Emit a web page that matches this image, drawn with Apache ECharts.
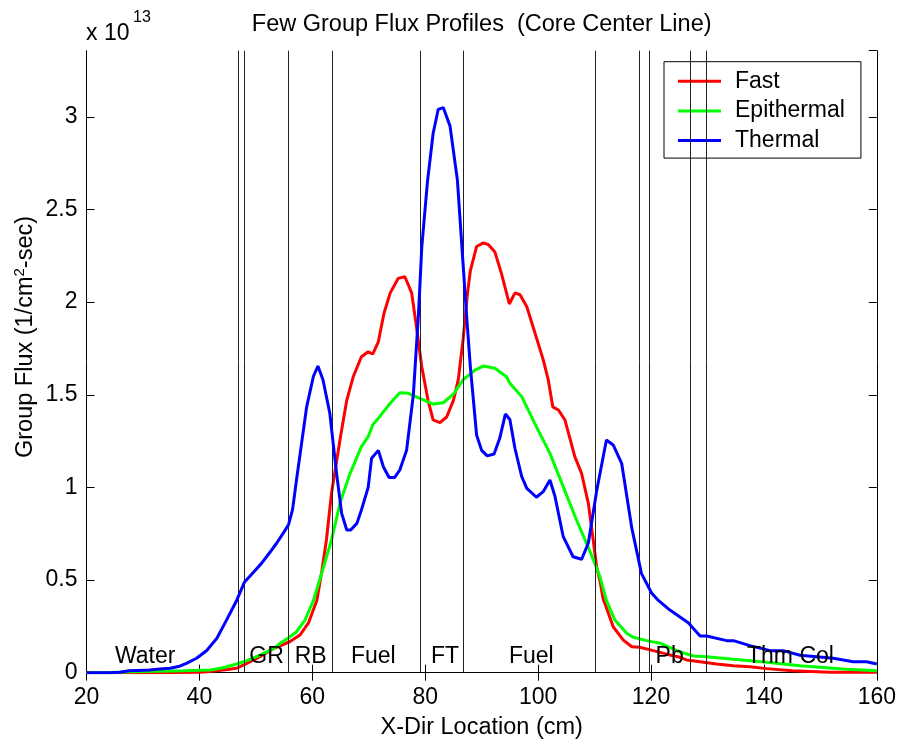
<!DOCTYPE html>
<html>
<head>
<meta charset="utf-8">
<script src="https://cdn.jsdelivr.net/npm/echarts@6/dist/echarts.min.js"></script>
<style>
html,body{margin:0;padding:0;background:#fff;}
#chart{width:899px;height:740px;}
</style>
</head>
<body>
<div id="chart"></div>
<script>
// ---- data (flux in units of 1e13 1/cm^2-sec) ----
var fastX = [20,30,40,41.3,43,45,46.6,48.4,50.7,53.1,56.0,57.8,59.3,60.8,61.7,62.5,63.4,64.9,66.1,67.25,68.7,69.9,70.7,71.7,72.7,73.8,75.2,76.4,77.6,78.45,79.4,80.5,81.4,82.6,83.8,85.0,85.85,86.7,87.5,88.0,89.1,90.3,91.2,92.35,93.5,94.4,94.9,95.9,96.8,98.0,99.1,100.9,101.8,102.6,103.6,104.75,106.5,107.7,108.9,109.76,110.36,111.0,111.5,112.1,113.3,115.1,116.6,118.0,120.4,122.8,125.1,126.3,128.7,131.6,134.6,137.5,140.5,145,151.7,160];
var fastY = [0,0,0.002,0.005,0.01,0.017,0.024,0.05,0.086,0.13,0.167,0.203,0.267,0.39,0.55,0.716,0.968,1.256,1.47,1.597,1.705,1.732,1.72,1.786,1.94,2.05,2.128,2.137,2.05,1.867,1.65,1.47,1.364,1.35,1.38,1.47,1.58,1.795,2.05,2.17,2.30,2.32,2.31,2.27,2.155,2.05,1.99,2.05,2.04,1.975,1.867,1.69,1.58,1.435,1.418,1.364,1.166,1.076,0.914,0.716,0.572,0.49,0.40,0.35,0.248,0.176,0.14,0.137,0.119,0.10,0.083,0.069,0.059,0.047,0.038,0.032,0.022,0.01,0.003,0.002];

var epiX = [20,24,26.5,30,33,37.1,41.9,44,46.6,48.4,50.7,53.1,54.3,55.7,57.2,58.7,60.2,61.8,63.4,64.9,66.7,68.7,69.9,70.7,72.0,73.8,75.5,77.0,79.07,81.4,83.2,85.0,86.7,88.8,90.3,92.35,94.4,95.0,97.1,99.4,102.1,104.45,106.8,109.1,110.95,112.1,113.6,115.7,116.85,119.2,121.6,125.1,127.5,129.85,134.6,140.5,146.4,154.6,160];
var epiY = [0,0,0.004,0.006,0.008,0.011,0.015,0.025,0.047,0.065,0.095,0.13,0.159,0.186,0.221,0.284,0.39,0.55,0.716,0.914,1.076,1.22,1.274,1.337,1.385,1.454,1.511,1.508,1.481,1.45,1.457,1.504,1.58,1.633,1.655,1.643,1.597,1.562,1.49,1.346,1.184,1.004,0.824,0.662,0.518,0.39,0.284,0.213,0.191,0.173,0.159,0.113,0.09,0.086,0.072,0.056,0.038,0.018,0.011];

var thermX = [20,22,24,25.9,27.5,29,31.2,33,34.8,36.5,37.7,39.5,41.3,43.1,44.8,46.6,48,49.5,51,52.5,53.7,55.0,55.8,56.5,57.2,59.0,60.2,61.0,61.9,63.1,64.3,65.2,66.1,66.8,67.9,68.7,69.9,70.5,71.7,72.6,73.6,74.6,75.5,76.7,77.9,78.8,79.4,80.4,81.4,82.3,83.2,84.4,85.7,86.5,87.3,88.0,89.1,90.0,91.0,92.2,93.2,94.2,95.0,95.9,97.1,98.0,99.7,100.9,102.1,103.0,104.45,106.2,107.7,108.9,110.4,112.1,113.3,114.8,116.6,118.3,120.1,121.3,123.35,126.6,128.7,129.85,133.4,134.6,137.5,141.1,143.4,146.4,152.3,155.8,158.2,160];
var thermY = [0,0,0,0.002,0.01,0.012,0.015,0.02,0.024,0.035,0.05,0.078,0.12,0.186,0.284,0.39,0.49,0.54,0.59,0.65,0.70,0.76,0.80,0.88,1.04,1.435,1.60,1.655,1.58,1.40,1.076,0.86,0.77,0.77,0.806,0.878,1.0,1.157,1.20,1.11,1.054,1.054,1.094,1.20,1.50,1.93,2.30,2.65,2.91,3.04,3.05,2.95,2.66,2.30,1.94,1.65,1.283,1.20,1.17,1.18,1.265,1.396,1.367,1.21,1.058,0.995,0.947,0.977,1.04,0.95,0.734,0.626,0.612,0.70,0.986,1.256,1.229,1.13,0.78,0.536,0.43,0.39,0.338,0.27,0.198,0.198,0.173,0.173,0.146,0.119,0.119,0.094,0.078,0.059,0.059,0.047];

var boundaryX = [46.8,47.95,55.8,63.6,79.07,86.74,110.1,117.9,119.6,127.0,129.85];
var regionNames = ['Water','GR','RB','Fuel','FT','Fuel','Pb','Thm Col'];
var regionX = [30.4,51.9,59.7,70.8,83.5,98.8,123.3,144.7];
var regionY = [0.085,0.085,0.085,0.085,0.085,0.085,0.085,0.085];

var xTicks = [20,40,60,80,100,120,140,160];
var yTicks = [0,0.5,1,1.5,2,2.5,3];
var seriesNames = ['Fast','Epithermal','Thermal'];

// ---- chart ----
function pairs(xs, ys){ return xs.map(function(x,i){ return [x, ys[i]]; }); }
var FONT = '"Liberation Sans", Arial, Helvetica, sans-serif';
var FS = 23;
var FT = 23.5;
var chart = echarts.init(document.getElementById('chart'), null, {renderer:'canvas'});

var axisCommon = {
  axisLine:{show:true, lineStyle:{color:'#000', width:1}},
  axisTick:{show:true, inside:true, length:8, lineStyle:{color:'#000', width:1}},
  splitLine:{show:false}
};
function xAx(pos, showLabel){
  return Object.assign({
    type:'value', position:pos, min:20, max:160, interval:20,
    axisLabel:{show:showLabel, fontSize:FS, fontFamily:FONT, color:'#000', margin:13}
  }, axisCommon);
}
function yAx(pos, showLabel){
  return Object.assign({
    type:'value', position:pos, min:0, max:3.357, interval:0.5,
    axisLabel:{show:showLabel, fontSize:FS, fontFamily:FONT, color:'#000', margin:9, showMaxLabel:false,
      formatter:function(v){ return yTicks.indexOf(+v.toFixed(2))>=0 ? String(+v.toFixed(2)) : ''; }}
  }, axisCommon);
}

var colors = ['#ff0000','#00ff00','#0000ff'];
var lineData = [pairs(fastX,fastY), pairs(epiX,epiY), pairs(thermX,thermY)];

var series = seriesNames.map(function(n,i){
  return {
    name:n, type:'line', data:lineData[i], showSymbol:false, symbol:'none',
    lineStyle:{color:colors[i], width:3}, itemStyle:{color:colors[i]},
    z: 3+i, animation:false, silent:true
  };
});

series.push({
  name:'regions', type:'scatter', symbolSize:0, silent:true, animation:false, z:10,
  itemStyle:{color:'#000', opacity:1},
  data: regionNames.map(function(n,i){ return {name:n, value:[regionX[i], regionY[i]]}; }),
  label:{show:true, position:'inside', formatter:'{b}', fontSize:FS, fontFamily:FONT, color:'#000',
    textBorderWidth:0, textBorderColor:'transparent', opacity:1},
  markLine:{
    silent:true, symbol:['none','none'], animation:false,
    label:{show:false},
    lineStyle:{color:'#222', width:1, type:'solid', opacity:1},
    data: boundaryX.map(function(x){ return {xAxis:x}; })
  }
});

chart.setOption({
  animation:false,
  backgroundColor:'#fff',
  grid:{left:86.5, right:22, top:50.7, bottom:67.3, containLabel:false},
  xAxis:[xAx('bottom', true), xAx('top', false)],
  yAxis:[yAx('left', true), yAx('right', false)],
  legend:{
    data:seriesNames, orient:'vertical', left:664, top:61.7,
    icon:'rect', itemWidth:43, itemHeight:3, itemGap:6.7,
    borderColor:'#000', borderWidth:1, backgroundColor:'#fff',
    padding:[8,16,6,14],
    textStyle:{fontSize:FS, fontFamily:FONT, color:'#000', lineHeight:23, padding:[0,0,0,9]},
    selectedMode:false
  },
  graphic:[
    {type:'text', x:481.7, y:25, style:{text:'Few Group Flux Profiles  (Core Center Line)', font:FT+'px '+FONT, fill:'#000', textAlign:'center', textVerticalAlign:'middle'}},
    {type:'text', x:481.7, y:728, style:{text:'X-Dir Location (cm)', font:FT+'px '+FONT, fill:'#000', textAlign:'center', textVerticalAlign:'middle'}},
    {type:'text', x:26, y:337, rotation:Math.PI/2,
      style:{text:'Group Flux (1/cm{sup|2}-sec)', fontSize:FT, fontFamily:FONT, fill:'#000', align:'center', verticalAlign:'middle',
        rich:{sup:{fontSize:15, fontFamily:FONT, verticalAlign:'bottom', padding:[0,0,12,0]}}}},
    {type:'text', x:86, y:34,
      style:{text:'x 10', fontSize:FS, fontFamily:FONT, fill:'#000', align:'left', verticalAlign:'middle'}},
    {type:'text', x:133, y:18,
      style:{text:'13', fontSize:16, fontFamily:FONT, fill:'#000', align:'left', verticalAlign:'middle'}}
  ],
  series:series
});
</script>
</body>
</html>
